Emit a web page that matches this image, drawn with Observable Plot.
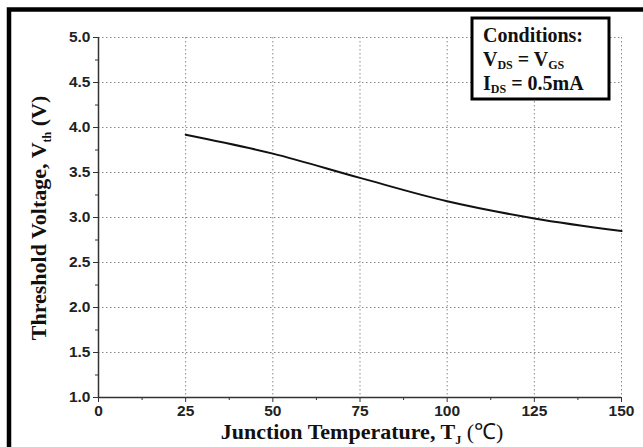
<!DOCTYPE html>
<html>
<head>
<meta charset="utf-8">
<script src="https://cdn.jsdelivr.net/npm/d3@7"></script>
<script src="https://cdn.jsdelivr.net/npm/@observablehq/plot@0.6"></script>
<style>
  html, body { margin: 0; padding: 0; background: #fff; overflow: hidden; }
  #chart { position: relative; width: 643px; height: 447px; }
</style>
</head>
<body>
<div id="chart"></div>
<script>
// Data
const temperature = [25, 50, 75, 100, 125, 150];
const thresholdVoltage = [3.92, 3.71, 3.44, 3.18, 2.99, 2.85];

// Axis ticks
const xTicks = [0, 25, 50, 75, 100, 125, 150];
const xMinorTicks = [12.5, 37.5, 62.5, 87.5, 112.5, 137.5];
const yTicks = [1.0, 1.5, 2.0, 2.5, 3.0, 3.5, 4.0, 4.5, 5.0];
const yMinorTicks = [1.25, 1.75, 2.25, 2.75, 3.25, 3.75, 4.25, 4.75];

const data = temperature.map((t, i) => ({t, v: thresholdVoltage[i]}));

const tickFont = {fontFamily: "Liberation Sans, Arial, sans-serif", fontWeight: "bold", fontSize: 15.5, fill: "#222"};

const chart = Plot.plot({
  width: 643,
  height: 447,
  marginLeft: 98,
  marginRight: 22,
  marginTop: 37,
  marginBottom: 50,
  style: {background: "transparent", overflow: "hidden"},
  x: {domain: [0, 150]},
  y: {domain: [1, 5]},
  marks: [
    Plot.gridX(xTicks, {stroke: "#888", strokeOpacity: 1, strokeDasharray: "1.5,2.5", strokeWidth: 1}),
    Plot.gridY(yTicks, {stroke: "#888", strokeOpacity: 1, strokeDasharray: "1.5,2.5", strokeWidth: 1}),
    Plot.axisX(xMinorTicks, {tickSize: 3, tickFormat: () => "", label: null, stroke: "#333"}),
    Plot.axisY(yMinorTicks, {tickSize: 3, tickFormat: () => "", label: null, stroke: "#333"}),
    Plot.axisX(xTicks, {tickSize: 5, tickPadding: 2, tickFormat: d3.format("d"), label: null, stroke: "#333", ...tickFont}),
    Plot.axisY(yTicks, {tickSize: 5, tickPadding: 3, tickFormat: d3.format(".1f"), label: null, stroke: "#333", ...tickFont}),
    Plot.ruleX([0], {stroke: "#333", strokeWidth: 1.5}),
    Plot.ruleY([1], {stroke: "#333", strokeWidth: 1.5}),
    Plot.line(data, {x: "t", y: "v", stroke: "#111", strokeWidth: 2, curve: "monotone-x"})
  ]
});

document.getElementById("chart").appendChild(chart);

const svg = d3.select(chart);
const serif = "Liberation Serif, Times New Roman, serif";

// Outer frame
svg.append("rect")
  .attr("x", 9).attr("y", 9.5).attr("width", 640).attr("height", 445)
  .attr("fill", "none").attr("stroke", "#000").attr("stroke-width", 4.5);

// Y axis title
const yt = svg.append("text")
  .attr("transform", "translate(46,218) rotate(-90)")
  .attr("text-anchor", "middle")
  .attr("font-family", serif).attr("font-weight", "bold").attr("font-size", 22).attr("fill", "#111");
yt.append("tspan").text("Threshold Voltage, V");
yt.append("tspan").attr("font-size", 12).attr("dy", 5).text("th");
yt.append("tspan").attr("dy", -5).text(" (V)");

// X axis title
const xt = svg.append("text")
  .attr("x", 362).attr("y", 439)
  .attr("text-anchor", "middle")
  .attr("font-family", serif).attr("font-weight", "bold").attr("font-size", 22).attr("fill", "#111");
xt.append("tspan").text("Junction Temperature, T");
xt.append("tspan").attr("font-size", 12).attr("dy", 5).text("J");
xt.append("tspan").attr("dy", -5).attr("font-weight", "normal").text(" (℃)");

// Conditions box
const g = svg.append("g").attr("text-anchor", "start");
g.append("rect").attr("x", 472).attr("y", 18).attr("width", 137).attr("height", 81)
  .attr("fill", "#fff").attr("stroke", "#000").attr("stroke-width", 3);
const lineAttrs = sel => sel.attr("text-anchor", "start").attr("font-family", serif).attr("font-weight", "bold").attr("font-size", 20).attr("fill", "#111");
lineAttrs(g.append("text").attr("x", 483).attr("y", 42)).text("Conditions:");
const l2 = lineAttrs(g.append("text").attr("x", 483).attr("y", 66));
l2.append("tspan").text("V");
l2.append("tspan").attr("font-size", 12).attr("dy", 3).text("DS");
l2.append("tspan").attr("dy", -3).text(" = V");
l2.append("tspan").attr("font-size", 12).attr("dy", 3).text("GS");
const l3 = lineAttrs(g.append("text").attr("x", 483).attr("y", 90));
l3.append("tspan").text("I");
l3.append("tspan").attr("font-size", 12).attr("dy", 3).text("DS");
l3.append("tspan").attr("dy", -3).text(" = 0.5mA");
</script>
</body>
</html>
